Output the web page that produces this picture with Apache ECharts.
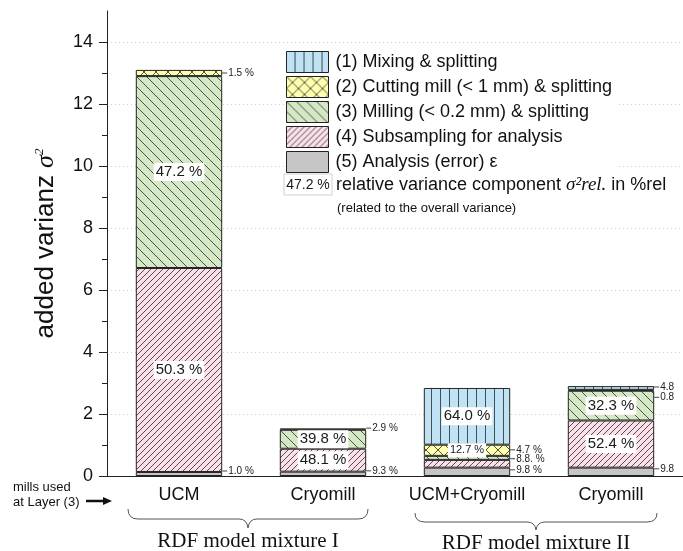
<!DOCTYPE html>
<html>
<head>
<meta charset="utf-8">
<script src="https://cdn.jsdelivr.net/npm/echarts@6/dist/echarts.min.js"></script>
<style>html,body{margin:0;padding:0;background:#fff}#c{width:683px;height:551px}</style>
</head>
<body>
<div id="c"></div>
<script>
// ---------- data ----------
const categories = ['UCM', 'Cryomill', 'UCM+Cryomill', 'Cryomill'];
const analysis    = [0.13, 0.14, 0.27, 0.27];
const subsampling = [6.58, 0.74, 0.25, 1.52];
const milling     = [6.19, 0.61, 0.13, 0.96];
const cutting     = [0.20, 0.045, 0.36, 0.03];
const mixing      = [null, null, 1.83, 0.12];
const pctAnalysis    = ['1.0 %', '9.3 %', '9.8 %', '9.8'];
const pctSubsampling = ['50.3 %', '48.1 %', '8.8. %', '52.4 %'];
const pctMilling     = ['47.2 %', '39.8 %', '4.7 %', '32.3 %'];
const pctCutting     = ['1.5 %', '2.9 %', '12.7 %', '0.8'];
const pctMixing      = ['', '', '64.0 %', '4.8'];
const yTicks = [0, 2, 4, 6, 8, 10, 12, 14];
const seriesNames = ['(1) Mixing & splitting', '(2) Cutting mill (< 1 mm) & splitting',
  '(3) Milling (< 0.2 mm) & splitting', '(4) Subsampling for analysis', '(5) Analysis (error) ε'];

// ---------- label placement (style) ----------
const place = {
  mixing:      [null, null, 'in', ['out', -1]],
  cutting:     [['out', 0], ['out', -1], 'inS', ['out', 7]],
  milling:     ['in', 'in', ['out', -8], 'in'],
  subsampling: ['in', 'in', ['out', -5], 'in'],
  analysis:    [['out', -3], ['out', -3], ['out', -2], ['out', -3]]
};

const SANS = '"Liberation Sans", Arial, sans-serif';
const SERIF = '"Liberation Serif", "Times New Roman", serif';

function pattern(bg, kind, p) {
  const c = document.createElement('canvas');
  c.width = p; c.height = p;
  const g = c.getContext('2d');
  g.fillStyle = bg; g.fillRect(0, 0, p, p);
  g.strokeStyle = '#2a2a2a'; g.lineWidth = 0.8;
  g.beginPath();
  if (kind === 'v') { g.moveTo(p - 0.5, 0); g.lineTo(p - 0.5, p); }
  if (kind === 'f' || kind === 'x') {
    g.moveTo(0, p); g.lineTo(p, 0);
    g.moveTo(-1, 1); g.lineTo(1, -1);
    g.moveTo(p - 1, p + 1); g.lineTo(p + 1, p - 1);
  }
  if (kind === 'b' || kind === 'x') {
    g.moveTo(0, 0); g.lineTo(p, p);
    g.moveTo(-1, p - 1); g.lineTo(1, p + 1);
    g.moveTo(p - 1, -1); g.lineTo(p + 1, 1);
  }
  g.stroke();
  return { image: c, repeat: 'repeat' };
}

const colors = {
  mixing: pattern('#bfe3f4', 'v', 9),
  cutting: pattern('#ffffae', 'x', 12),
  milling: pattern('#d5e8c6', 'b', 10),
  subsampling: pattern('#fbe0ea', 'f', 6),
  analysis: '#c6c6c6'
};

function labelFor(txt, pl) {
  if (!pl || !txt) return { show: false };
  if (pl === 'in' || pl === 'inS') {
    return {
      show: true, position: 'inside', formatter: txt,
      fontSize: pl === 'in' ? 15 : 11, color: '#1a1a1a', fontFamily: SANS,
      backgroundColor: '#fff', padding: [2, 2, 1, 2]
    };
  }
  return {
    show: true, position: 'right', distance: 0, offset: [0, pl[1]],
    formatter: '{l| }{t|' + txt + '}',
    rich: {
      l: { width: 5, height: 1, backgroundColor: '#444' },
      t: { fontSize: 10, color: '#222', fontFamily: SANS, padding: [0, 0, 0, 1] }
    }
  };
}

function mkSeries(key, name, vals, pcts) {
  return {
    name: name, type: 'bar', stack: 'tot', xAxisIndex: 0, yAxisIndex: 0,
    barWidth: '60%',
    itemStyle: { color: colors[key], borderColor: '#222', borderWidth: 1 },
    emphasis: { disabled: true },
    data: vals.map((v, i) => v == null ? '-' : { value: v, label: labelFor(pcts[i], place[key][i]) })
  };
}

function brace(x1, x2, yTop, yMid, yTip) {
  const xm = (x1 + x2) / 2, st = { fill: 'none', stroke: '#555', lineWidth: 1 };
  return [
    { type: 'bezierCurve', z: 11, shape: { x1: x1, y1: yTop, x2: x1 + 10, y2: yMid, cpx1: x1, cpy1: yMid }, style: st },
    { type: 'line', z: 11, shape: { x1: x1 + 10, y1: yMid, x2: xm - 9, y2: yMid }, style: st },
    { type: 'bezierCurve', z: 11, shape: { x1: xm - 9, y1: yMid, x2: xm, y2: yTip, cpx1: xm - 1, cpy1: yMid }, style: st },
    { type: 'bezierCurve', z: 11, shape: { x1: xm, y1: yTip, x2: xm + 9, y2: yMid, cpx1: xm + 1, cpy1: yMid }, style: st },
    { type: 'line', z: 11, shape: { x1: xm + 9, y1: yMid, x2: x2 - 10, y2: yMid }, style: st },
    { type: 'bezierCurve', z: 11, shape: { x1: x2 - 10, y1: yMid, x2: x2, y2: yTop, cpx1: x2, cpy1: yMid }, style: st }
  ];
}

const chart = echarts.init(document.getElementById('c'), null, { renderer: 'canvas' });
chart.setOption({
  animation: false,
  backgroundColor: '#fff',
  textStyle: { fontFamily: SANS },
  grid: [
    { left: 107, width: 588, top: 11, height: 465 },
    { left: 107, width: 588, top: 42, height: 434 }
  ],
  xAxis: [
    { gridIndex: 0, type: 'category', data: categories,
      axisLine: { lineStyle: { color: '#222', width: 1 } },
      axisTick: { length: 7, lineStyle: { color: '#222' } },
      axisLabel: { interval: 0, fontSize: 18, color: '#111', margin: 10, fontFamily: SANS } },
    { gridIndex: 1, type: 'category', data: categories, show: false }
  ],
  yAxis: [
    { gridIndex: 0, type: 'value', min: 0, max: 15,
      axisLine: { show: true, lineStyle: { color: '#222', width: 1 } },
      axisTick: { show: false }, axisLabel: { show: false }, splitLine: { show: false },
      name: 'added varianz {s|σ}{p|2}', nameLocation: 'middle', nameRotate: 90, nameGap: 48,
      nameTextStyle: { fontSize: 26, color: '#111', fontFamily: SANS,
        rich: { s: { fontSize: 26, fontFamily: SERIF, fontStyle: 'italic', color: '#111' },
                p: { fontSize: 13, fontFamily: SERIF, fontStyle: 'italic', color: '#111', verticalAlign: 'top' } } } },
    { gridIndex: 1, type: 'value', min: yTicks[0], max: yTicks[yTicks.length - 1], interval: 2,
      axisLine: { show: false },
      axisTick: { show: true, length: 8, lineStyle: { color: '#222' } },
      minorTick: { show: true, splitNumber: 2, length: 5, lineStyle: { color: '#222' } },
      axisLabel: { fontSize: 18, color: '#111', margin: 14, fontFamily: SANS },
      splitLine: { show: true, lineStyle: { color: '#cfcfcf', type: [1, 3], width: 1 } } }
  ],
  legend: {
    orient: 'vertical', left: 284, top: 49,
    data: seriesNames,
    icon: 'rect', itemWidth: 42, itemHeight: 21, itemGap: 3,
    itemStyle: { borderColor: '#222', borderWidth: 1 },
    textStyle: { fontSize: 18, color: '#111', fontFamily: SANS, padding: [0, 0, 0, 2] },
    backgroundColor: '#fff', padding: [2, 4, 0, 2],
    selectedMode: false
  },
  series: [
    mkSeries('analysis', seriesNames[4], analysis, pctAnalysis),
    mkSeries('subsampling', seriesNames[3], subsampling, pctSubsampling),
    mkSeries('milling', seriesNames[2], milling, pctMilling),
    mkSeries('cutting', seriesNames[1], cutting, pctCutting),
    mkSeries('mixing', seriesNames[0], mixing, pctMixing)
  ],
  graphic: [
    { type: 'rect', z: 10, shape: { x: 284, y: 174, width: 48, height: 21 },
      style: { fill: '#fff', stroke: '#d0d0d0', lineWidth: 1 } },
    { type: 'text', x: 308, y: 185, z: 11,
      style: { text: '47.2 %', fontSize: 14, fontFamily: SANS, fill: '#1a1a1a', align: 'center', verticalAlign: 'middle' } },
    { type: 'text', x: 336, y: 185, z: 11,
      style: { text: 'relative variance component {s|σ²rel.} in %rel', verticalAlign: 'middle',
        fontSize: 18, fontFamily: SANS, fill: '#111',
        rich: { s: { fontSize: 19, fontFamily: SERIF, fontStyle: 'italic', fill: '#111' } } } },
    { type: 'text', x: 337, y: 208, z: 11,
      style: { text: '(related to the overall variance)', verticalAlign: 'middle', fontSize: 13, fontFamily: SANS, fill: '#111' } },
    { type: 'text', x: 13, y: 487, z: 11,
      style: { text: 'mills used', verticalAlign: 'middle', fontSize: 13, fontFamily: SANS, fill: '#111' } },
    { type: 'text', x: 13, y: 502, z: 11,
      style: { text: 'at Layer (3)', verticalAlign: 'middle', fontSize: 13, fontFamily: SANS, fill: '#111' } },
    { type: 'line', shape: { x1: 86, y1: 501, x2: 104, y2: 501 }, style: { stroke: '#111', lineWidth: 2.5 }, z: 11 },
    { type: 'polygon', shape: { points: [[103, 497], [112, 501], [103, 505]] }, style: { fill: '#111' }, z: 11 }
  ].concat(brace(128, 368, 509, 519, 528)).concat(brace(415, 657, 513, 522, 530)).concat([
    { type: 'text', x: 248, y: 541, z: 11,
      style: { text: 'RDF model mixture I', align: 'center', verticalAlign: 'middle', fontSize: 21, fontFamily: SERIF, fill: '#111' } },
    { type: 'text', x: 536, y: 543, z: 11,
      style: { text: 'RDF model mixture II', align: 'center', verticalAlign: 'middle', fontSize: 21, fontFamily: SERIF, fill: '#111' } }
  ])
});
</script>
</body>
</html>
